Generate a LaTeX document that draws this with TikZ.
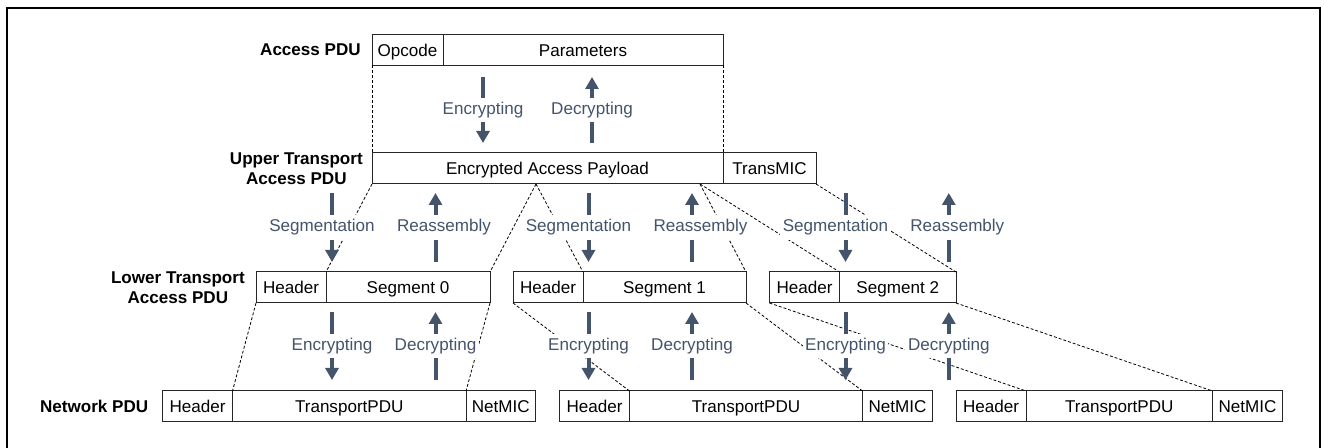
\documentclass[tikz,border=0pt]{standalone}
\usepackage{fontspec}
\setmainfont{Liberation Sans}
\usetikzlibrary{positioning,arrows.meta}
\definecolor{flowgray}{HTML}{44546A}

\tikzset{
  fld/.style={draw=black!85, line width=0.75pt, inner sep=0pt, outer sep=0pt, minimum height=23.25pt, minimum width=#1*0.75pt, text height=10.5pt, text depth=1.2pt, anchor=west},
  lbl/.style={font=\fontsize{12.8}{14.7}\selectfont\bfseries, align=center, anchor=east, inner sep=0pt},
  cut/.style={dash pattern=on 2.2pt off 1.5pt, line width=0.6pt},
  flow/.style={draw=flowgray, line width=3pt},
  dn/.style={flow, -{Triangle[width=9.75pt,length=9pt]}},
  up/.style={flow, {Triangle[width=9.75pt,length=9pt]}-},
  flowtxt/.style={fill=white, text=flowgray, inner xsep=2pt, inner ysep=3.4pt, text height=9.2pt, text depth=2.7pt}
}

\begin{document}
\begin{tikzpicture}[x=0.75pt,y=-0.75pt,font=\fontsize{12.8}{14.7}\selectfont]

\useasboundingbox (0,0) rectangle (1324,448);
\draw[line width=1.5pt] (7,448) -- (7,8) -- (1320,8) -- (1320,448);

\def\yA{50}
\def\yB{168.5}
\def\yC{287.5}
\def\yD{406.5}

% access and upper transport
\node[lbl] (accL) at (361,\yA) {Access PDU};
\node[fld=71] (op) at (372,\yA) {Opcode};
\node[fld=280,right=0pt of op] (par) {Parameters};

\node[lbl] (uppL) at (363,\yB) {Upper Transport\\Access PDU};
\node[fld=351] (pay) at (372,\yB) {Encrypted Access Payload};
\node[fld=93,right=0pt of pay] (tmic) {TransMIC};

% lower transport segments
\node[lbl] (lowL) at (245,\yC) {Lower Transport\\Access PDU};
\node[fld=70] (hd0) at (256,\yC) {Header};
\node[fld=164,right=0pt of hd0] (sgm0) {Segment 0};
\node[fld=70] (hd1) at (513,\yC) {Header};
\node[fld=163,right=0pt of hd1] (sgm1) {Segment 1};
\node[fld=70] (hd2) at (769.5,\yC) {Header};
\node[fld=116.5,right=0pt of hd2] (sgm2) {Segment 2};

% network
\node[lbl] (netL) at (148.5,\yD) {Network PDU};
\node[fld=70] (nh0) at (162.5,\yD) {Header};
\node[fld=233.5,right=0pt of nh0] (tp0) {TransportPDU};
\node[fld=69.5,right=0pt of tp0] (mic0) {NetMIC};
\node[fld=70] (nh1) at (559.5,\yD) {Header};
\node[fld=233,right=0pt of nh1] (tp1) {TransportPDU};
\node[fld=70,right=0pt of tp1] (mic1) {NetMIC};
\node[fld=70] (nh2) at (956,\yD) {Header};
\node[fld=186.5,right=0pt of nh2] (tp2) {TransportPDU};
\node[fld=70,right=0pt of tp2] (mic2) {NetMIC};

% dashed guides
\coordinate (cut0) at (536,184);
\coordinate (cut1) at (700,184);
\draw[cut] (op.south west) -- (pay.north west);
\draw[cut] (par.south east) -- (pay.north east);
\draw[cut] (pay.south west) -- (sgm0.north west);
\draw[cut] (cut0) -- (sgm0.north east);
\draw[cut] (cut0) -- (sgm1.north west);
\draw[cut] (cut1) -- (sgm1.north east);
\draw[cut] (cut1) -- (sgm2.north west);
\draw[cut] (tmic.south east) -- (sgm2.north east);
\draw[cut] (hd0.south west) -- (tp0.north west);
\draw[cut] (sgm0.south east) -- (tp0.north east);
\draw[cut] (hd1.south west) -- (tp1.north west);
\draw[cut] (sgm1.south east) -- (tp1.north east);
\draw[cut] (hd2.south west) -- (tp2.north west);
\draw[cut] (sgm2.south east) -- (tp2.north east);

% flows
\def\yUt{77} \def\yUb{143}
\def\yMt{193} \def\yMb{262}
\def\yLt{312} \def\yLb{380}

\coordinate (encUt) at (483,\yUt); \coordinate (encUb) at (483,\yUb);
\coordinate (decUt) at (592,\yUt); \coordinate (decUb) at (592,\yUb);
\draw[dn] (encUt) -- node[flowtxt] (encU) {Encrypting} (encUb);
\draw[up] (decUt) -- node[flowtxt] (decU) {Decrypting} (decUb);

\coordinate (sg0t) at (332,\yMt); \coordinate (sg0b) at (332,\yMb);
\coordinate (ra0t) at (435.5,\yMt); \coordinate (ra0b) at (435.5,\yMb);
\coordinate (sg1t) at (588.5,\yMt); \coordinate (sg1b) at (588.5,\yMb);
\coordinate (ra1t) at (692,\yMt); \coordinate (ra1b) at (692,\yMb);
\coordinate (sg2t) at (845.5,\yMt); \coordinate (sg2b) at (845.5,\yMb);
\coordinate (ra2t) at (948.8,\yMt); \coordinate (ra2b) at (948.8,\yMb);
\draw[dn] (sg0t) -- node[flowtxt,xshift=-7.5pt] (sg0) {Segmentation} (sg0b);
\draw[up] (ra0t) -- node[flowtxt,xshift=6.4pt] (ra0) {Reassembly} (ra0b);
\draw[dn] (sg1t) -- node[flowtxt,xshift=-7.5pt] (sg1) {Segmentation} (sg1b);
\draw[up] (ra1t) -- node[flowtxt,xshift=6.4pt] (ra1) {Reassembly} (ra1b);
\draw[dn] (sg2t) -- node[flowtxt,xshift=-7.5pt] (sg2) {Segmentation} (sg2b);
\draw[up] (ra2t) -- node[flowtxt,xshift=6.4pt] (ra2) {Reassembly} (ra2b);

\coordinate (en0t) at (332,\yLt); \coordinate (en0b) at (332,\yLb);
\coordinate (de0t) at (435.5,\yLt); \coordinate (de0b) at (435.5,\yLb);
\coordinate (en1t) at (588.5,\yLt); \coordinate (en1b) at (588.5,\yLb);
\coordinate (de1t) at (692,\yLt); \coordinate (de1b) at (692,\yLb);
\coordinate (en2t) at (845.5,\yLt); \coordinate (en2b) at (845.5,\yLb);
\coordinate (de2t) at (948.8,\yLt); \coordinate (de2b) at (948.8,\yLb);
\draw[dn] (en0t) -- node[flowtxt] (en0) {Encrypting} (en0b);
\draw[up] (de0t) -- node[flowtxt] (de0) {Decrypting} (de0b);
\draw[dn] (en1t) -- node[flowtxt] (en1) {Encrypting} (en1b);
\draw[up] (de1t) -- node[flowtxt] (de1) {Decrypting} (de1b);
\draw[dn] (en2t) -- node[flowtxt] (en2) {Encrypting} (en2b);
\draw[up] (de2t) -- node[flowtxt] (de2) {Decrypting} (de2b);

\end{tikzpicture}
\end{document}
